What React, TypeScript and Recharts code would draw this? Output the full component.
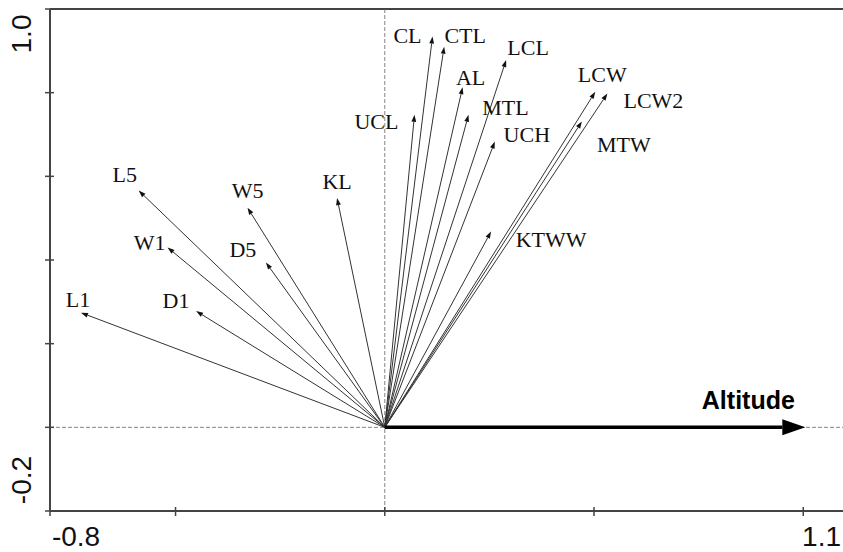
import { ComposedChart, ReferenceLine, Scatter, XAxis, YAxis } from "recharts"

// species/trait vectors (axis 1, axis 2 scores)
const variableNames = ["CL", "CTL", "LCL", "AL", "MTL", "UCL", "UCH", "LCW", "LCW2", "MTW", "KTWW", "KL", "L5", "W5", "W1", "D5", "D1", "L1"]
const axis1Scores = [0.114, 0.142, 0.29, 0.186, 0.2, 0.071, 0.263, 0.503, 0.532, 0.471, 0.254, -0.114, -0.588, -0.328, -0.519, -0.284, -0.451, -0.726]
const axis2Scores = [0.934, 0.91, 0.878, 0.813, 0.747, 0.747, 0.683, 0.802, 0.798, 0.731, 0.468, 0.548, 0.566, 0.525, 0.43, 0.394, 0.278, 0.274]

// environmental variable
const envName = "Altitude"
const envAxis1 = 1.005
const envAxis2 = 0

const xDomain = [-0.8, 1.095]
const yDomain = [-0.2, 1.0]
const xTicks = [-0.8, -0.5, 0, 0.5, 1.0, 1.095]
const yTicks = [-0.2, 0, 0.2, 0.4, 0.6, 0.8, 1.0]
const xEndLabels = ["-0.8", "1.1"]
const yEndLabels = ["-0.2", "1.0"]

// label placement relative to arrow tip, in px (layout only)
const labelOffset: Record<string, [number, number]> = {
  CL: [-25, -1],
  CTL: [21, -11],
  LCL: [22, -13],
  AL: [8, -10],
  MTL: [37, -8],
  UCL: [-38, 6],
  UCH: [32, -7],
  LCW: [7, -18],
  LCW2: [46, 7],
  MTW: [42, 23],
  KTWW: [60, 8],
  KL: [0, -17],
  L5: [-14, -16],
  W5: [0, -17],
  W1: [-18, -5],
  D5: [-23, -13],
  D1: [-20, -11],
  L1: [-3, -13],
}

const tips = variableNames.map((name, i) => ({ name, x: axis1Scores[i], y: axis2Scores[i] }))

const AXIS_COLOR = "#444"

function arrowHead(x1: number, y1: number, x2: number, y2: number, len: number, hw: number) {
  const ang = Math.atan2(y2 - y1, x2 - x1)
  const bx = x2 - len * Math.cos(ang)
  const by = y2 - len * Math.sin(ang)
  const px = -Math.sin(ang) * hw
  const py = Math.cos(ang) * hw
  return { bx, by, points: `${x2},${y2} ${bx + px},${by + py} ${bx - px},${by - py}` }
}

function VectorShape(props: any) {
  const { x1, y1, x2, y2 } = props
  const head = arrowHead(x1, y1, x2, y2, 7, 2.4)
  return (
    <g>
      <line x1={x1} y1={y1} x2={head.bx} y2={head.by} stroke="#333" strokeWidth={1} />
      <polygon points={head.points} fill="#111" />
    </g>
  )
}

function EnvShape(props: any) {
  const { x1, y1, x2, y2 } = props
  const head = arrowHead(x1, y1, x2, y2, 23, 8)
  return (
    <g>
      <line x1={x1} y1={y1} x2={head.bx} y2={head.by} stroke="#000" strokeWidth={3.5} />
      <polygon points={head.points} fill="#000" />
      <text
        x={x2 - 57}
        y={y2 - 27}
        dy="0.35em"
        textAnchor="middle"
        fontFamily="Liberation Sans, Arial, sans-serif"
        fontWeight="bold"
        fontSize={25}
        fill="#000"
      >
        {envName}
      </text>
    </g>
  )
}

function TipLabel(props: any) {
  const { cx, cy, payload } = props
  const [dx, dy] = labelOffset[payload.name] || [0, -12]
  return (
    <text
      x={cx + dx}
      y={cy + dy}
      dy="0.35em"
      textAnchor="middle"
      fontFamily="Liberation Serif, Times New Roman, serif"
      fontSize={22}
      fill="#111"
    >
      {payload.name}
    </text>
  )
}

function XTick(props: any) {
  const { x, y, index } = props
  const last = index === xTicks.length - 1
  return (
    <g>
      {!last && <line x1={x} y1={y - 4} x2={x} y2={y + 5} stroke={AXIS_COLOR} strokeWidth={1.5} />}
      {index === 0 && (
        <text x={x + 26} y={y + 35} textAnchor="middle" fontFamily="Liberation Sans, Arial, sans-serif" fontSize={28} fill="#111">
          {xEndLabels[0]}
        </text>
      )}
      {last && (
        <text x={x - 2} y={y + 35} textAnchor="end" fontFamily="Liberation Sans, Arial, sans-serif" fontSize={28} fill="#111">
          {xEndLabels[1]}
        </text>
      )}
    </g>
  )
}

function YTick(props: any) {
  const { x, y, index } = props
  const last = index === yTicks.length - 1
  const label = index === 0 ? yEndLabels[0] : last ? yEndLabels[1] : null
  const cy = index === 0 ? y - 31 : y + 25
  return (
    <g>
      <line x1={x - 5} y1={y} x2={x + 4} y2={y} stroke={AXIS_COLOR} strokeWidth={1.5} />
      {label && (
        <text
          x={x - 29}
          y={cy}
          dy="0.35em"
          textAnchor="middle"
          transform={`rotate(-90, ${x - 29}, ${cy})`}
          fontFamily="Liberation Sans, Arial, sans-serif"
          fontSize={28}
          fill="#111"
        >
          {label}
        </text>
      )}
    </g>
  )
}

export default function App() {
  return (
    <div style={{ position: "absolute", left: 0, top: 0, background: "#fff" }}>
      <ComposedChart width={843} height={552} margin={{ top: 9, right: 0, bottom: 1, left: 0 }}>
        <XAxis
          type="number"
          dataKey="x"
          domain={xDomain}
          ticks={xTicks}
          interval={0}
          allowDataOverflow
          height={40}
          tickSize={0}
          tickMargin={0}
          tickLine={false}
          tick={<XTick />}
          axisLine={{ stroke: AXIS_COLOR, strokeWidth: 2 }}
        />
        <YAxis
          type="number"
          dataKey="y"
          domain={yDomain}
          ticks={yTicks}
          interval={0}
          allowDataOverflow
          width={50}
          tickSize={0}
          tickMargin={0}
          tickLine={false}
          tick={<YTick />}
          axisLine={{ stroke: AXIS_COLOR, strokeWidth: 2 }}
        />
        <ReferenceLine y={1.0} stroke={AXIS_COLOR} strokeWidth={2} />
        <ReferenceLine x={0} stroke="#666" strokeWidth={0.8} strokeDasharray="4 2" />
        <ReferenceLine y={0} stroke="#666" strokeWidth={0.8} strokeDasharray="4 2" />
        {tips.map((t) => (
          <ReferenceLine
            key={t.name}
            segment={[{ x: 0, y: 0 }, { x: t.x, y: t.y }]}
            shape={VectorShape}
          />
        ))}
        <ReferenceLine segment={[{ x: 0, y: 0 }, { x: envAxis1, y: envAxis2 }]} shape={EnvShape} />
        <Scatter data={tips} dataKey="y" shape={TipLabel} isAnimationActive={false} />
      </ComposedChart>
    </div>
  )
}
